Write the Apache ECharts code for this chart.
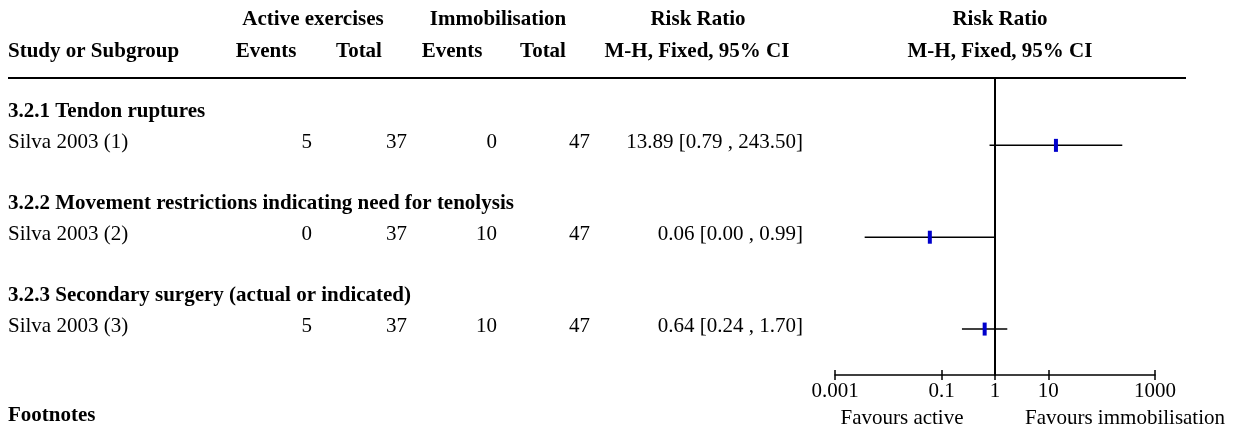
<!DOCTYPE html>
<html>
<head>
<meta charset="utf-8">
<script src="https://cdn.jsdelivr.net/npm/echarts@6/dist/echarts.min.js"></script>
<style>
  html, body { margin: 0; padding: 0; background: #fff; }
  #chart { width: 1238px; height: 427px; }
</style>
</head>
<body>
<div id="chart"></div>
<script>
// ---- Data -----------------------------------------------------------------
const subgroups = [
  '3.2.1 Tendon ruptures',
  '3.2.2 Movement restrictions indicating need for tenolysis',
  '3.2.3 Secondary surgery (actual or indicated)'
];
const studies = ['Silva 2003 (1)', 'Silva 2003 (2)', 'Silva 2003 (3)'];
const activeEvents = [5, 0, 5];
const activeTotal = [37, 37, 37];
const immobEvents = [0, 10, 10];
const immobTotal = [47, 47, 47];
const riskRatio = [13.89, 0.06, 0.64];
const ciLower = [0.79, 0.0036, 0.24];
const ciUpper = [243.50, 0.99, 1.70];
const axisTickValues = [0.001, 0.1, 1, 10, 1000];
const axisLabels = ['0.001', '0.1', '1', '10', '1000'];

// ---- Layout ---------------------------------------------------------------
const FONT = "'Liberation Serif', 'Times New Roman', serif";
const FS = 21;
const ROW_MIN = -1.2, ROW_MAX = 8.5;      // row scale shared by plot and table
const GRID_TOP = 78, GRID_H = 297;
const TEXT_DY = -3;                        // text sits slightly above the CI line
const COL = { name: 8, ev1: 312, tot1: 407, ev2: 497, tot2: 590, ci: 803 };

const log10 = v => Math.log(v) / Math.LN10;
const fmt2 = v => v.toFixed(2);

// each subgroup occupies three rows: heading, study, spacer
const headingRow = i => i * 3;
const studyRow = i => i * 3 + 1;

// table cells: [column x, row] plus their text
const tableCells = [];
subgroups.forEach((g, i) => {
  tableCells.push({ value: [COL.name, headingRow(i)], text: g, bold: true, align: 'left' });
  tableCells.push({ value: [COL.name, studyRow(i)], text: studies[i], align: 'left' });
  tableCells.push({ value: [COL.ev1, studyRow(i)], text: String(activeEvents[i]), align: 'right' });
  tableCells.push({ value: [COL.tot1, studyRow(i)], text: String(activeTotal[i]), align: 'right' });
  tableCells.push({ value: [COL.ev2, studyRow(i)], text: String(immobEvents[i]), align: 'right' });
  tableCells.push({ value: [COL.tot2, studyRow(i)], text: String(immobTotal[i]), align: 'right' });
  tableCells.push({
    value: [COL.ci, studyRow(i)],
    text: fmt2(riskRatio[i]) + ' [' + fmt2(ciLower[i]) + ' , ' + fmt2(ciUpper[i]) + ']',
    align: 'right'
  });
});

// forest rows: [log lower, log upper, log estimate, row]
const forestData = riskRatio.map((rr, i) => [log10(ciLower[i]), log10(ciUpper[i]), log10(rr), studyRow(i)]);

const tickLog = axisTickValues.map(log10);

const chart = echarts.init(document.getElementById('chart'), null, { renderer: 'canvas' });

function headerText(text, x, y, align, bold) {
  return {
    type: 'text', x: x, y: y, silent: true,
    style: {
      text: text, align: align, verticalAlign: 'middle',
      fontFamily: FONT, fontSize: FS, fontWeight: bold ? 'bold' : 'normal', fill: '#000'
    }
  };
}

chart.setOption({
  animation: false,
  backgroundColor: '#fff',
  grid: [
    { left: 835, width: 320, top: GRID_TOP, height: GRID_H },
    { left: 0, width: 1238, top: GRID_TOP, height: GRID_H }
  ],
  xAxis: [
    {
      gridIndex: 0, type: 'value', min: -3, max: 3, position: 'bottom',
      axisLine: { show: true, onZero: false, lineStyle: { color: '#000', width: 1.5 } },
      axisTick: { show: true, customValues: tickLog, length: 5, lineStyle: { color: '#000', width: 1.5 } },
      axisLabel: {
        show: true, customValues: tickLog, margin: 6,
        fontFamily: FONT, fontSize: FS, color: '#000',
        formatter: v => {
          const k = tickLog.findIndex(t => Math.abs(t - v) < 1e-9);
          return k >= 0 ? axisLabels[k] : '';
        }
      },
      splitLine: { show: false }
    },
    {
      // second copy of the scale: ticks pointing upwards
      gridIndex: 0, type: 'value', min: -3, max: 3, position: 'bottom',
      axisLine: { show: false, onZero: false },
      axisTick: { show: true, inside: true, customValues: tickLog, length: 5, lineStyle: { color: '#000', width: 1.5 } },
      axisLabel: { show: false },
      splitLine: { show: false }
    },
    {
      gridIndex: 1, type: 'value', min: 0, max: 1238, show: false
    }
  ],
  yAxis: [
    {
      gridIndex: 0, type: 'value', inverse: true, min: ROW_MIN, max: ROW_MAX,
      axisLine: { show: true, onZero: true, lineStyle: { color: '#000', width: 2 } },
      axisTick: { show: false }, axisLabel: { show: false }, splitLine: { show: false }
    },
    {
      gridIndex: 1, type: 'value', inverse: true, min: ROW_MIN, max: ROW_MAX, show: false
    }
  ],
  series: [
    {
      type: 'custom', xAxisIndex: 0, yAxisIndex: 0, clip: false,
      data: forestData,
      renderItem: (params, api) => {
        const row = api.value(3);
        const p0 = api.coord([api.value(0), row]);
        const p1 = api.coord([api.value(1), row]);
        const pm = api.coord([api.value(2), row]);
        return {
          type: 'group',
          children: [
            {
              type: 'line',
              shape: { x1: p0[0], y1: p0[1], x2: p1[0], y2: p1[1] },
              style: { stroke: '#000', lineWidth: 1.5 }
            },
            {
              type: 'rect',
              shape: { x: pm[0] - 2, y: pm[1] - 6.5, width: 4, height: 13 },
              style: { fill: '#0000cc' }
            }
          ]
        };
      }
    },
    {
      type: 'custom', xAxisIndex: 2, yAxisIndex: 1, clip: false,
      data: tableCells,
      renderItem: (params, api) => {
        const cell = tableCells[params.dataIndex];
        const p = api.coord([api.value(0), api.value(1)]);
        return {
          type: 'text', x: p[0], y: p[1] + TEXT_DY,
          style: {
            text: cell.text, align: cell.align, verticalAlign: 'middle',
            fontFamily: FONT, fontSize: FS, fontWeight: cell.bold ? 'bold' : 'normal', fill: '#000'
          }
        };
      }
    }
  ],
  graphic: [
    headerText('Active exercises', 313, 20, 'center', true),
    headerText('Immobilisation', 498, 20, 'center', true),
    headerText('Risk Ratio', 698, 20, 'center', true),
    headerText('Risk Ratio', 1000, 20, 'center', true),
    headerText('Study or Subgroup', 8, 52, 'left', true),
    headerText('Events', 266, 52, 'center', true),
    headerText('Total', 359, 52, 'center', true),
    headerText('Events', 452, 52, 'center', true),
    headerText('Total', 543, 52, 'center', true),
    headerText('M-H, Fixed, 95% CI', 697, 52, 'center', true),
    headerText('M-H, Fixed, 95% CI', 1000, 52, 'center', true),
    {
      type: 'line', silent: true,
      shape: { x1: 8, y1: 78, x2: 1186, y2: 78 },
      style: { stroke: '#000', lineWidth: 2 }
    },
    headerText('Favours active', 902, 418, 'center', false),
    headerText('Favours immobilisation', 1125, 418, 'center', false),
    headerText('Footnotes', 8, 416, 'left', true)
  ]
});
</script>
</body>
</html>
